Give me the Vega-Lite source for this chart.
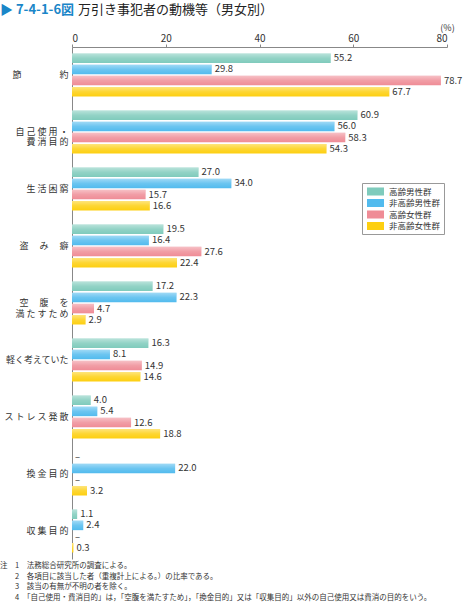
{
  "$schema": "https://vega.github.io/schema/vega-lite/v6.json",
  "padding": {"left": 0, "right": 0, "top": 4, "bottom": 0},
  "background": "white",
  "title": {
    "text": "▶ 7-4-1-6図",
    "subtitle": "\u200B　　　　　　万引き事犯者の動機等（男女別）",
    "anchor": "start",
    "font": "Noto Sans CJK JP",
    "fontSize": 13,
    "fontWeight": "bold",
    "color": "#1a86c8",
    "subtitleFont": "Noto Sans CJK JP",
    "subtitleFontSize": 13,
    "subtitleFontWeight": "normal",
    "subtitleColor": "#222222",
    "subtitlePadding": -13,
    "offset": 6
  },
  "vconcat": [
    {
      "width": 375,
      "height": 512,
      "title": {
        "text": [
          "注　1　法務総合研究所の調査による。",
          "\u200B　　2　各項目に該当した者（重複計上による。）の比率である。",
          "\u200B　　3　該当の有無が不明の者を除く。",
          "\u200B　　4　「自己使用・費消目的」は，「空腹を満たすため」，「換金目的」又は「収集目的」以外の自己使用又は費消の目的をいう。"
        ],
        "orient": "bottom",
        "anchor": "start",
        "font": "Noto Sans CJK JP",
        "fontSize": 7.5,
        "fontWeight": "normal",
        "color": "#333333",
        "lineHeight": 10.7,
        "offset": 3
      },
      "data": {
        "values": [
          {"c": "節約", "s": "高齢男性群", "v": 55.2},
          {"c": "節約", "s": "非高齢男性群", "v": 29.8},
          {"c": "節約", "s": "高齢女性群", "v": 78.7},
          {"c": "節約", "s": "非高齢女性群", "v": 67.7},
          {"c": "自己使用・費消目的", "s": "高齢男性群", "v": 60.9},
          {"c": "自己使用・費消目的", "s": "非高齢男性群", "v": 56.0},
          {"c": "自己使用・費消目的", "s": "高齢女性群", "v": 58.3},
          {"c": "自己使用・費消目的", "s": "非高齢女性群", "v": 54.3},
          {"c": "生活困窮", "s": "高齢男性群", "v": 27.0},
          {"c": "生活困窮", "s": "非高齢男性群", "v": 34.0},
          {"c": "生活困窮", "s": "高齢女性群", "v": 15.7},
          {"c": "生活困窮", "s": "非高齢女性群", "v": 16.6},
          {"c": "盗み癖", "s": "高齢男性群", "v": 19.5},
          {"c": "盗み癖", "s": "非高齢男性群", "v": 16.4},
          {"c": "盗み癖", "s": "高齢女性群", "v": 27.6},
          {"c": "盗み癖", "s": "非高齢女性群", "v": 22.4},
          {"c": "空腹を満たすため", "s": "高齢男性群", "v": 17.2},
          {"c": "空腹を満たすため", "s": "非高齢男性群", "v": 22.3},
          {"c": "空腹を満たすため", "s": "高齢女性群", "v": 4.7},
          {"c": "空腹を満たすため", "s": "非高齢女性群", "v": 2.9},
          {"c": "軽く考えていた", "s": "高齢男性群", "v": 16.3},
          {"c": "軽く考えていた", "s": "非高齢男性群", "v": 8.1},
          {"c": "軽く考えていた", "s": "高齢女性群", "v": 14.9},
          {"c": "軽く考えていた", "s": "非高齢女性群", "v": 14.6},
          {"c": "ストレス発散", "s": "高齢男性群", "v": 4.0},
          {"c": "ストレス発散", "s": "非高齢男性群", "v": 5.4},
          {"c": "ストレス発散", "s": "高齢女性群", "v": 12.6},
          {"c": "ストレス発散", "s": "非高齢女性群", "v": 18.8},
          {"c": "換金目的", "s": "高齢男性群", "v": 0},
          {"c": "換金目的", "s": "非高齢男性群", "v": 22.0},
          {"c": "換金目的", "s": "高齢女性群", "v": 0},
          {"c": "換金目的", "s": "非高齢女性群", "v": 3.2},
          {"c": "収集目的", "s": "高齢男性群", "v": 1.1},
          {"c": "収集目的", "s": "非高齢男性群", "v": 2.4},
          {"c": "収集目的", "s": "高齢女性群", "v": 0},
          {"c": "収集目的", "s": "非高齢女性群", "v": 0.3}
        ]
      },
      "encoding": {
        "y": {
          "field": "c",
          "type": "nominal",
          "sort": null,
          "scale": {"paddingInner": 0.2456, "paddingOuter": 0.114},
          "axis": {
            "title": null,
            "ticks": false,
            "domain": true,
            "domainColor": "#888888",
            "domainWidth": 1,
            "labelFont": "Noto Sans CJK JP",
            "labelFontSize": 9,
            "labelColor": "#333333",
            "labelPadding": 4,
            "labelLineHeight": 10.5,
            "labelLimit": 100,
            "minExtent": 72,
            "maxExtent": 72,
            "labelExpr": "datum.value === '節約' ? '節　　　　 約' : datum.value === '自己使用・費消目的' ? ['自 己 使 用 ・', '費  消  目  的'] : datum.value === '生活困窮' ? '生  活  困  窮' : datum.value === '盗み癖' ? '盗　  み　  癖' : datum.value === '空腹を満たすため' ? ['空　  腹　  を', '満 た す た め'] : datum.value === 'ストレス発散' ? 'ス ト レ ス 発 散' : datum.value === '換金目的' ? '換  金  目  的' : datum.value === '収集目的' ? '収  集  目  的' : datum.value"
          }
        },
        "yOffset": {
          "field": "s",
          "type": "nominal",
          "sort": ["高齢男性群", "非高齢男性群", "高齢女性群", "非高齢女性群"],
          "scale": {"paddingInner": 0.15, "paddingOuter": 0}
        },
        "x": {
          "field": "v",
          "type": "quantitative",
          "scale": {"domain": [0, 80], "nice": false},
          "axis": {
            "orient": "top",
            "values": [0, 20, 40, 60, 80],
            "grid": false,
            "domainColor": "#888888",
            "tickColor": "#888888",
            "tickSize": 3,
            "labelFont": "Noto Sans CJK JP",
            "labelFontSize": 10,
            "labelColor": "#333333",
            "labelPadding": 1,
            "title": "(%)",
            "titleFont": "Noto Sans CJK JP",
            "titleFontSize": 9,
            "titleFontWeight": "normal",
            "titleColor": "#333333",
            "titleX": 375,
            "titleY": -17,
            "titleAlign": "center",
            "titleBaseline": "alphabetic"
          }
        }
      },
      "layer": [
        {
          "mark": {"type": "bar"},
          "encoding": {
            "color": {
              "field": "s",
              "type": "nominal",
              "sort": ["高齢男性群", "非高齢男性群", "高齢女性群", "非高齢女性群"],
              "scale": {
                "domain": ["高齢男性群", "非高齢男性群", "高齢女性群", "非高齢女性群"],
                "range": ["#7fcbbc", "#52bbee", "#ef8c96", "#fdcf10"]
              },
              "legend": {
                "title": null,
                "orient": "none",
                "legendX": 290,
                "legendY": 136,
                "strokeColor": "#999999",
                "fillColor": "white",
                "padding": 3,
                "symbolType": "M-1.55,-0.73H1.55V0.73H-1.55Z",
                "symbolSize": 121,
                "symbolStrokeWidth": 0,
                "symbolOpacity": 1,
                "symbolOffset": 5,
                "labelFont": "Noto Sans CJK JP",
                "labelFontSize": 8.5,
                "labelColor": "#333333",
                "labelOffset": 8,
                "rowPadding": 1.5
              }
            }
          }
        },
        {
          "mark": {
            "type": "bar",
            "fill": {
              "gradient": "linear",
              "x1": 0, "y1": 0, "x2": 0, "y2": 1,
              "stops": [
                {"offset": 0, "color": "rgba(255,255,255,0.45)"},
                {"offset": 0.5, "color": "rgba(255,255,255,0.15)"},
                {"offset": 1, "color": "rgba(255,255,255,0)"}
              ]
            }
          },
          "encoding": {}
        },
        {
          "mark": {
            "type": "text",
            "align": "left",
            "baseline": "middle",
            "dx": 3,
            "font": "Noto Sans CJK JP",
            "fontSize": 9.5,
            "color": "#333333"
          },
          "encoding": {
            "text": {
              "condition": {"test": "datum.v === 0", "value": "–"},
              "field": "v",
              "type": "quantitative",
              "format": ".1f"
            }
          }
        }
      ]
    }
  ],
  "config": {
    "view": {"stroke": null},
    "font": "Noto Sans CJK JP"
  }
}
